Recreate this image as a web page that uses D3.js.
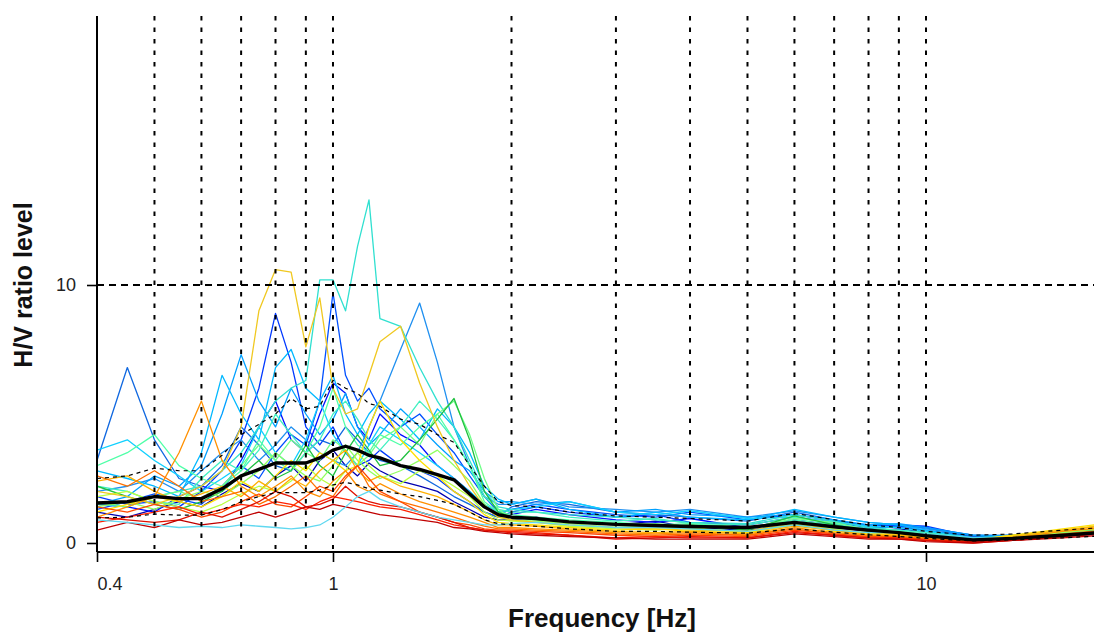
<!DOCTYPE html>
<html>
<head>
<meta charset="utf-8">
<script src="https://cdn.jsdelivr.net/npm/d3@7"></script>
<style>
  html, body { margin: 0; padding: 0; background: #fff; }
  svg { display: block; }
</style>
</head>
<body>
<svg id="chart" width="1094" height="637"></svg>
<script>
// ---------------- DATA ----------------
const freqs = [0.4,0.45,0.5,0.55,0.6,0.65,0.7,0.75,0.8,0.85,0.9,0.95,1.0,1.05,1.1,1.15,1.2,1.3,1.4,1.5,1.6,1.7,1.8,1.9,2.0,2.2,2.5,3,3.5,4,5,6,7,8,9,10,12,14,17,20];

const meanHV   = [1.55,1.6,1.8,1.72,1.72,2.1,2.6,2.85,3.1,3.1,3.1,3.3,3.6,3.75,3.6,3.4,3.3,3.0,2.85,2.65,2.45,1.9,1.4,1.1,1.0,0.95,0.82,0.72,0.68,0.64,0.6,0.8,0.63,0.5,0.4,0.28,0.12,0.18,0.3,0.42];
const stdUpper = [2.5,2.6,2.9,2.8,2.8,3.4,4.2,4.6,5.0,5.6,5.2,5.3,6.3,6.0,5.8,5.4,5.3,4.8,4.6,4.2,3.9,3.0,2.2,1.6,1.45,1.4,1.2,1.05,1.0,0.95,0.85,1.15,0.9,0.7,0.6,0.45,0.3,0.35,0.5,0.6];
const stdLower = [0.97,1.0,1.12,1.08,1.08,1.3,1.6,1.8,1.95,1.95,1.95,2.05,2.25,2.35,2.25,2.1,2.05,1.9,1.8,1.65,1.5,1.2,0.9,0.75,0.7,0.65,0.55,0.45,0.45,0.42,0.38,0.55,0.42,0.32,0.25,0.18,0.08,0.12,0.2,0.28];

const win00 = [1.2,1.0,1.3,1.6,1.4,1.9,2.3,2.0,2.6,3.0,2.4,3.2,3.6,3.0,2.6,3.1,2.8,2.4,2.2,2.0,1.6,1.3,1.0,0.9,0.9,1.0,0.8,0.7,0.85,0.6,0.5,0.7,0.6,0.45,0.55,0.4,0.2,0.15,0.3,0.35];
const win01 = [1.5,1.4,1.2,1.8,2.2,2.0,3.2,4.5,5.5,4.0,3.5,5.0,6.2,5.8,4.5,4.0,5.0,4.2,3.8,3.0,2.5,2.0,1.4,1.0,1.1,1.3,1.1,0.9,0.8,0.95,0.6,0.9,0.7,0.55,0.65,0.6,0.25,0.2,0.35,0.4];
const win02 = [1.8,1.5,1.6,1.4,2.0,2.8,4.0,6.0,8.9,7.0,4.5,3.8,4.5,3.5,3.0,3.2,3.6,3.0,2.8,2.5,2.0,1.6,1.2,1.0,1.2,1.4,1.2,1.0,1.1,0.8,0.7,1.0,0.8,0.6,0.7,0.65,0.25,0.2,0.3,0.4];
const win03 = [1.3,1.6,1.9,1.7,1.5,2.2,3.0,2.5,3.5,4.2,3.8,5.5,9.7,6.5,5.5,6.0,5.2,4.5,5.0,4.2,3.5,2.6,1.8,1.2,1.3,1.5,1.3,1.1,1.0,1.2,0.9,1.1,0.85,0.7,0.65,0.6,0.3,0.25,0.35,0.45];
const win04 = [3.2,6.8,4.0,2.5,2.2,3.0,4.5,3.8,3.0,2.8,3.5,4.0,3.8,4.5,4.0,3.5,3.2,3.0,2.6,2.2,1.8,1.5,1.2,1.0,1.4,1.6,1.5,1.2,1.1,1.0,0.85,1.2,0.9,0.65,0.6,0.5,0.25,0.3,0.35,0.4];
const win05 = [2.0,2.2,2.5,2.0,2.8,3.5,4.0,3.2,3.8,4.5,4.0,3.5,3.2,3.0,3.5,4.5,5.5,7.5,9.3,7.0,4.5,3.0,1.8,1.5,1.5,1.7,1.4,1.3,1.2,1.3,1.0,1.25,1.0,0.8,0.7,0.55,0.3,0.3,0.4,0.5];
const win06 = [1.5,1.8,2.6,2.2,3.0,5.0,7.3,5.5,4.5,6.0,5.0,4.2,4.8,5.8,4.5,3.8,4.2,5.2,4.5,3.8,3.2,2.8,2.0,1.6,1.6,1.5,1.6,1.2,1.3,1.1,1.0,1.1,0.9,0.7,0.75,0.6,0.3,0.25,0.4,0.45];
const win07 = [2.8,2.5,2.2,1.8,3.5,6.5,5.0,4.0,6.8,7.5,6.0,5.5,6.5,5.0,4.2,5.0,5.5,4.8,4.0,5.2,4.5,3.5,2.2,1.7,1.5,1.7,1.3,1.0,1.2,1.0,0.9,1.3,1.0,0.8,0.7,0.5,0.2,0.3,0.45,0.5];
const win08 = [3.6,4.0,3.2,2.6,2.0,2.5,3.0,4.5,3.5,3.0,4.0,5.5,4.2,3.5,3.0,3.8,4.5,4.0,3.5,3.0,2.5,2.0,1.5,1.2,1.3,1.4,1.6,1.2,1.1,1.25,0.95,1.0,0.8,0.65,0.6,0.45,0.2,0.25,0.35,0.45];
const win09 = [1.5,1.4,1.8,2.0,2.2,2.8,3.5,4.5,5.5,6.0,6.3,10.2,10.2,9.0,11.5,13.3,8.7,8.4,6.8,5.5,4.5,3.2,2.0,1.4,1.3,1.2,1.1,1.0,0.9,0.8,0.75,1.1,0.85,0.6,0.5,0.4,0.2,0.25,0.35,0.4];
const win10 = [2.2,2.0,1.6,1.5,2.5,3.2,2.8,3.6,5.0,4.2,3.5,4.0,5.0,5.5,4.8,4.0,3.6,4.5,5.5,4.8,4.0,3.0,1.8,1.3,1.2,1.2,1.0,0.85,0.95,0.75,0.7,1.0,0.75,0.55,0.5,0.4,0.15,0.25,0.3,0.4];
const win11 = [3.0,3.5,4.2,3.0,2.5,2.2,2.8,4.0,3.2,2.8,3.5,4.5,6.0,4.5,3.8,3.5,4.2,3.8,4.5,5.0,4.0,3.0,1.6,1.2,1.1,1.0,0.9,0.8,0.7,0.75,0.6,0.9,0.7,0.5,0.45,0.35,0.15,0.2,0.35,0.45];
const win12 = [1.6,1.4,1.8,2.0,1.7,2.2,3.0,3.8,3.2,4.0,3.5,3.2,4.0,3.6,3.0,3.4,4.0,4.5,3.8,5.0,5.5,4.2,2.5,1.3,1.0,0.95,0.85,0.7,0.75,0.65,0.55,0.95,0.8,0.5,0.4,0.3,0.15,0.2,0.4,0.5];
const win13 = [2.2,1.8,1.5,1.3,1.6,2.0,2.6,3.2,2.5,2.8,3.8,3.0,2.6,3.5,4.2,3.6,3.0,3.2,4.0,4.8,5.6,4.0,2.0,1.2,1.0,0.9,0.8,0.75,0.6,0.7,0.5,1.05,0.7,0.45,0.35,0.3,0.1,0.2,0.45,0.55];
const win14 = [1.4,1.6,1.3,1.7,2.0,1.8,2.3,2.8,3.5,3.0,2.6,2.4,3.0,3.8,3.2,2.8,2.5,2.8,3.2,3.6,3.0,2.4,1.5,1.0,0.9,0.85,0.75,0.6,0.65,0.55,0.45,0.8,0.55,0.35,0.4,0.25,0.1,0.2,0.4,0.6];
const win15 = [1.8,2.0,1.6,1.4,1.2,1.5,1.9,2.2,2.0,2.4,3.0,2.5,2.2,2.8,3.5,3.0,2.6,2.3,2.8,2.6,2.2,1.8,1.2,0.9,0.85,0.8,0.65,0.55,0.5,0.6,0.4,0.75,0.5,0.4,0.35,0.2,0.1,0.25,0.45,0.55];
const win16 = [2.0,1.8,1.5,1.8,2.2,2.8,4.5,9.0,10.6,10.5,7.6,9.5,6.0,5.0,5.2,6.5,7.8,8.4,6.2,4.5,3.2,2.2,1.4,1.0,0.9,0.8,0.7,0.6,0.55,0.5,0.45,0.8,0.5,0.4,0.35,0.25,0.12,0.3,0.5,0.7];
const win17 = [1.2,1.5,1.8,1.6,1.4,1.8,2.4,2.0,2.6,3.2,2.8,3.5,3.2,2.8,3.0,4.5,5.5,4.0,3.2,2.6,2.0,1.6,1.1,0.8,0.75,0.7,0.6,0.5,0.55,0.45,0.4,0.7,0.45,0.35,0.3,0.25,0.1,0.3,0.55,0.75];
const win18 = [2.4,2.6,2.0,1.6,1.9,2.2,1.8,2.4,2.0,2.5,2.2,2.8,3.2,3.6,2.8,2.4,2.6,2.2,2.0,1.8,1.5,1.2,0.9,0.7,0.7,0.65,0.55,0.45,0.4,0.45,0.35,0.65,0.5,0.3,0.3,0.2,0.1,0.25,0.5,0.65];
const win19 = [1.0,1.4,1.8,3.5,5.5,3.2,2.2,1.8,2.2,2.6,2.0,1.8,2.4,2.8,2.2,2.0,2.3,1.9,1.6,1.4,1.2,1.0,0.8,0.6,0.6,0.55,0.5,0.4,0.35,0.4,0.3,0.6,0.4,0.3,0.25,0.2,0.1,0.2,0.45,0.6];
const win20 = [2.6,2.2,2.8,2.2,1.6,1.8,2.0,1.5,1.8,2.2,2.6,2.0,1.8,2.5,3.0,2.2,1.9,1.6,1.4,1.2,1.0,0.8,0.65,0.55,0.55,0.5,0.45,0.35,0.3,0.35,0.3,0.55,0.35,0.25,0.25,0.15,0.05,0.2,0.35,0.5];
const win21 = [1.4,1.2,1.5,1.3,1.0,1.2,1.6,1.9,1.5,1.4,1.8,2.2,2.0,2.6,3.0,2.5,2.0,1.6,1.2,1.0,0.8,0.7,0.55,0.5,0.5,0.45,0.4,0.3,0.25,0.3,0.25,0.5,0.35,0.25,0.2,0.15,0.05,0.15,0.3,0.45];
const win22 = [0.8,1.0,1.2,1.4,1.1,1.3,1.5,1.4,1.6,1.5,1.3,1.6,1.8,1.7,1.6,1.5,1.4,1.3,1.1,0.9,0.7,0.6,0.5,0.45,0.45,0.4,0.3,0.2,0.25,0.2,0.2,0.45,0.3,0.2,0.2,0.1,0.0,0.1,0.25,0.4];
const win23 = [1.0,0.9,0.8,0.9,1.2,1.0,1.3,1.6,2.0,1.8,1.4,1.5,1.7,2.2,1.8,1.6,1.5,1.4,1.2,1.0,0.8,0.6,0.5,0.45,0.4,0.35,0.3,0.15,0.2,0.25,0.2,0.4,0.3,0.2,0.15,0.1,0.05,0.1,0.25,0.35];
const win24 = [0.5,0.8,0.6,0.9,0.7,0.8,1.0,1.2,1.0,1.2,1.4,1.3,1.5,1.4,1.3,1.2,1.1,1.0,0.9,0.8,0.6,0.55,0.45,0.4,0.35,0.3,0.25,0.2,0.15,0.15,0.15,0.35,0.25,0.15,0.15,0.05,0.0,0.1,0.2,0.3];
const win25 = [0.9,0.8,0.7,0.6,0.65,0.6,0.7,0.65,0.6,0.55,0.6,0.7,1.0,1.4,1.8,2.0,1.7,1.4,1.2,1.0,0.9,0.8,0.7,0.7,0.75,0.8,0.7,0.6,0.6,0.55,0.45,0.7,0.5,0.4,0.4,0.35,0.2,0.2,0.3,0.4];

const windows = [win00,win01,win02,win03,win04,win05,win06,win07,win08,win09,win10,win11,win12,win13,win14,win15,win16,win17,win18,win19,win20,win21,win22,win23,win24,win25];

const yTickValues = [0, 10];
const xTickValues = [0.4, 1, 10];
const xTickLabels = ["0.4", "1", "10"];
const gridFreqs = [0.5,0.6,0.7,0.8,0.9,1,2,3,4,5,6,7,8,9,10];
const yGridValues = [10];

// ---------------- STYLE ----------------
const palette = ["#0000b0","#0010ff","#0038ff","#0050ff","#1068e0","#2090f0","#00a0ff","#00b8ff","#10d0ff","#30e0d0",
                 "#40f0c0","#50ffa8","#70ff88","#20c040","#90ff60","#b8ff40","#f0c820","#ffe000","#ffb000","#ff9000",
                 "#ff7000","#ff4800","#ff2000","#e01000","#c00000","#60d8f0"];

(function draw() {
  const W = 1094, H = 637;
  const pLeft = 97, pRight = 1094, pTop = 16, pBottom = 552;

  const svg = d3.select("#chart");
  svg.append("rect").attr("width", W).attr("height", H).attr("fill", "#fff");

  const x = d3.scaleLog().domain([0.4, 10]).range([97, 926]);
  const y = d3.scaleLinear().domain([0, 10]).range([543, 285]);

  svg.append("defs").append("clipPath").attr("id", "plotclip")
    .append("rect").attr("x", pLeft).attr("y", pTop).attr("width", pRight - pLeft).attr("height", pBottom - pTop);

  const plot = svg.append("g").attr("clip-path", "url(#plotclip)");

  const line = d3.line()
    .x((d, i) => x(freqs[i]))
    .y(d => y(d));

  plot.append("g").selectAll("path")
    .data(windows)
    .join("path")
    .attr("d", d => line(d))
    .attr("fill", "none")
    .attr("stroke", (d, i) => palette[i % palette.length])
    .attr("stroke-width", 1.3)
    .attr("stroke-linejoin", "round");

  plot.append("g").selectAll("line")
    .data(gridFreqs)
    .join("line")
    .attr("x1", d => x(d)).attr("x2", d => x(d))
    .attr("y1", pTop).attr("y2", pBottom - 3)
    .attr("stroke", "#000")
    .attr("stroke-width", 2)
    .attr("stroke-dasharray", "4.5,7");

  plot.append("g").selectAll("line")
    .data(yGridValues)
    .join("line")
    .attr("x1", pLeft).attr("x2", pRight)
    .attr("y1", d => y(d)).attr("y2", d => y(d))
    .attr("stroke", "#000")
    .attr("stroke-width", 2)
    .attr("stroke-dasharray", "7,5");

  [stdUpper, stdLower].forEach(s => {
    plot.append("path")
      .attr("d", line(s))
      .attr("fill", "none")
      .attr("stroke", "#000")
      .attr("stroke-width", 1.2)
      .attr("stroke-dasharray", "4,4");
  });

  plot.append("path")
    .attr("d", line(meanHV))
    .attr("fill", "none")
    .attr("stroke", "#000")
    .attr("stroke-width", 3.4)
    .attr("stroke-linejoin", "round");

  svg.append("line").attr("x1", pLeft).attr("x2", pLeft).attr("y1", pTop).attr("y2", pBottom)
    .attr("stroke", "#000").attr("stroke-width", 2);
  svg.append("line").attr("x1", pLeft).attr("x2", pRight).attr("y1", pBottom).attr("y2", pBottom)
    .attr("stroke", "#000").attr("stroke-width", 2);

  const tickFont = "'Liberation Sans', Arial, sans-serif";

  const yAxis = svg.append("g")
    .attr("transform", `translate(${pLeft},0)`)
    .call(d3.axisLeft(y).tickValues(yTickValues).tickSize(10).tickPadding(11).tickFormat(d3.format("d")));
  yAxis.select(".domain").remove();
  yAxis.selectAll(".tick line").attr("stroke", "#000").attr("stroke-width", 1.6);
  yAxis.selectAll(".tick text").attr("font-family", tickFont).attr("font-size", 18).attr("fill", "#222");

  const xAxis = svg.append("g")
    .attr("transform", `translate(0,${pBottom})`)
    .call(d3.axisBottom(x).tickValues(xTickValues).tickSize(10).tickPadding(15)
      .tickFormat((d, i) => xTickLabels[i]));
  xAxis.select(".domain").remove();
  xAxis.selectAll(".tick line").attr("stroke", "#000").attr("stroke-width", 1.6);
  xAxis.selectAll(".tick text").attr("font-family", tickFont).attr("font-size", 18).attr("fill", "#222")
    .attr("text-anchor", (d, i) => i === 0 ? "start" : "middle");

  svg.append("text")
    .attr("x", 602).attr("y", 627)
    .attr("text-anchor", "middle")
    .attr("font-family", "'Liberation Sans', Arial, sans-serif")
    .attr("font-weight", "bold")
    .attr("font-size", 26)
    .attr("fill", "#111")
    .text("Frequency [Hz]");

  svg.append("text")
    .attr("transform", "translate(32,285) rotate(-90)")
    .attr("text-anchor", "middle")
    .attr("font-family", "'Liberation Sans', Arial, sans-serif")
    .attr("font-weight", "bold")
    .attr("font-size", 25)
    .attr("fill", "#111")
    .text("H/V ratio level");
})();
</script>
</body>
</html>
